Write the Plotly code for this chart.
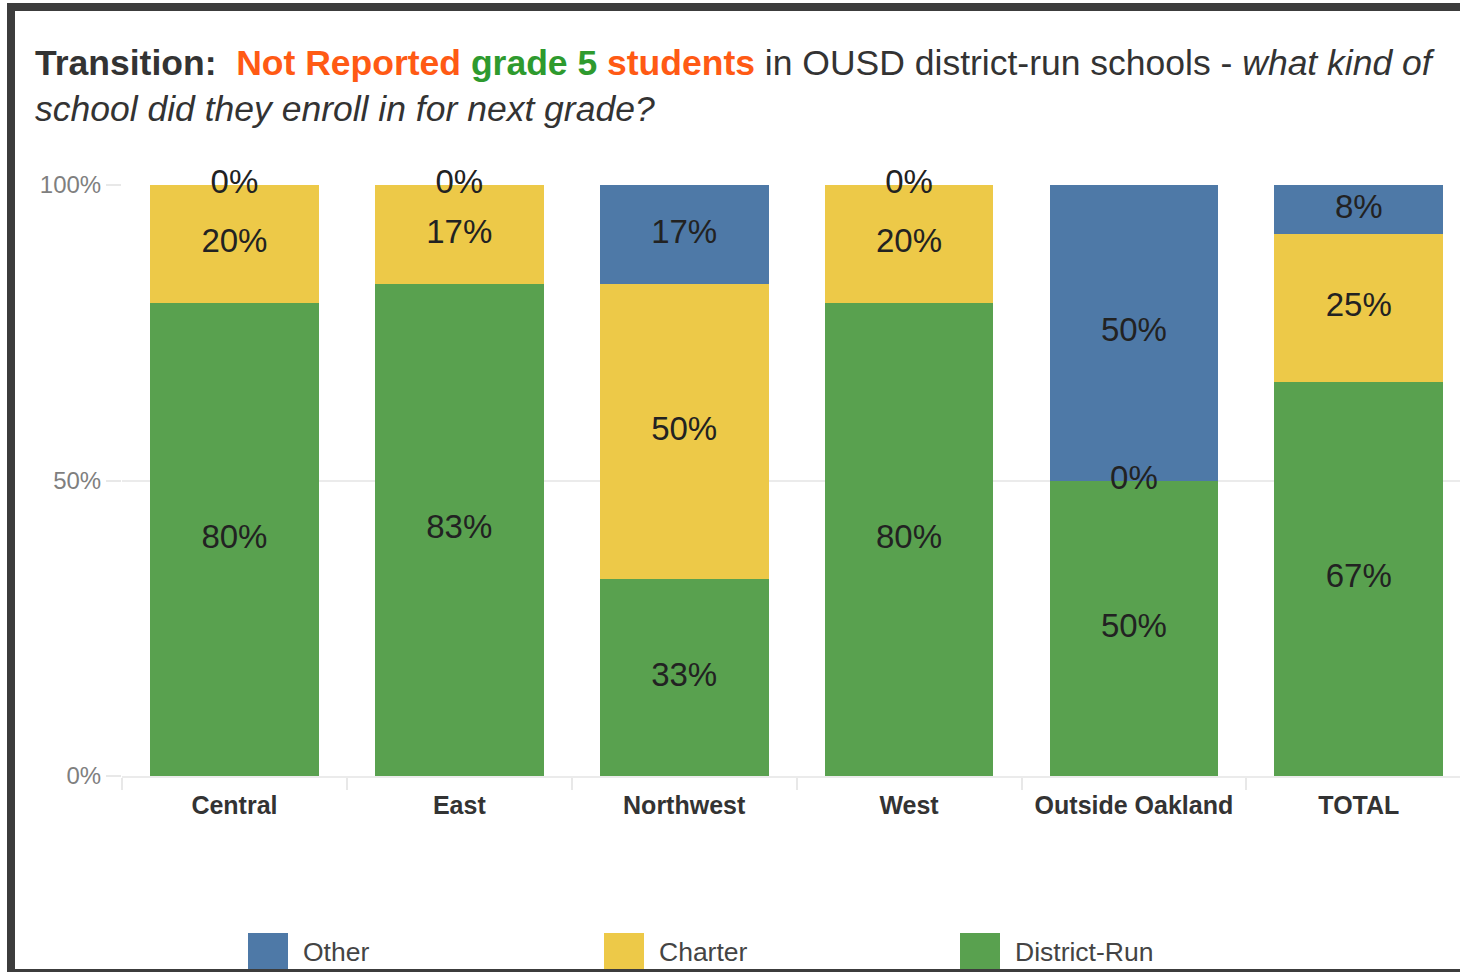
import plotly.graph_objects as go

categories = ["Central", "East", "Northwest", "West", "Outside Oakland", "TOTAL"]
district_run = [80.0, 83.3, 33.3, 80.0, 50.0, 66.7]
charter = [20.0, 16.7, 50.0, 20.0, 0.0, 25.0]
other = [0.0, 0.0, 16.7, 0.0, 50.0, 8.3]
series_names = ["District-Run", "Charter", "Other"]
colors = {"District-Run": "#59A14F", "Charter": "#EDC948", "Other": "#4E79A7"}
ytick_vals = [0, 50, 100]
ytick_text = ["0%", "50%", "100%"]

W, H = 1460, 972
PL, PR, PT, PB = 122, 1460, 185, 776  # plot area pixels


def px_x(p):
    return (p - PL) / (PR - PL)


def px_y(p):
    return (PB - p) / (PB - PT)


FONT = "Liberation Sans, Arial, sans-serif"
fig = go.Figure()

series = {"District-Run": district_run, "Charter": charter, "Other": other}
for name in series_names:
    fig.add_trace(go.Bar(
        x=categories, y=series[name], name=name,
        marker=dict(color=colors[name], line=dict(width=0)),
        width=0.75, showlegend=False, hoverinfo="skip",
    ))

# centered value labels
lab_x, lab_y, lab_t = [], [], []
base = [0.0] * len(categories)
for name in series_names:
    vals = series[name]
    for i, v in enumerate(vals):
        lab_x.append(categories[i])
        lab_y.append(base[i] + v / 2)
        lab_t.append(f"{round(v)}%")
        base[i] += v
fig.add_trace(go.Scatter(
    x=lab_x, y=lab_y, text=lab_t, mode="text", showlegend=False,
    textfont=dict(family=FONT, size=33, color="#222222"), hoverinfo="skip",
    cliponaxis=False,
))

title = ("<b>Transition:</b>  "
         "<b><span style='color:#FF5A14'>Not Reported</span> "
         "<span style='color:#2E9A2E'>grade 5</span> "
         "<span style='color:#FF5A14'>students</span></b>"
         " in OUSD district-run schools - <i>what kind of"
         "<br>school did they enroll in for next grade?</i>")

shapes = []
annotations = []
# manual legend (Other, Charter, District-Run)
legend_items = [("Other", 248), ("Charter", 604), ("District-Run", 960)]
for name, lx in legend_items:
    shapes.append(dict(type="rect", xref="paper", yref="paper",
                       x0=px_x(lx), x1=px_x(lx + 40), y0=px_y(970), y1=px_y(933),
                       fillcolor=colors[name], line=dict(width=0), layer="above"))
    annotations.append(dict(xref="paper", yref="paper", x=px_x(lx + 53), y=px_y(952),
                            xanchor="left", yanchor="middle", text=name, showarrow=False,
                            font=dict(family=FONT, size=26.5, color="#444444")))

# frame border
border = "#3C3C3C"
shapes += [
    dict(type="rect", xref="paper", yref="paper", x0=px_x(7), x1=px_x(1461),
         y0=px_y(11), y1=px_y(3), fillcolor=border, line=dict(width=0), layer="above"),
    dict(type="rect", xref="paper", yref="paper", x0=px_x(7), x1=px_x(15),
         y0=px_y(973), y1=px_y(3), fillcolor=border, line=dict(width=0), layer="above"),
    dict(type="rect", xref="paper", yref="paper", x0=px_x(7), x1=px_x(1461),
         y0=px_y(973), y1=px_y(969), fillcolor=border, line=dict(width=0), layer="above"),
]

fig.update_layout(
    width=W, height=H,
    barmode="stack", bargap=0.25,
    paper_bgcolor="white", plot_bgcolor="white",
    margin=dict(l=PL, r=W - PR, t=PT, b=H - PB, pad=0),
    title=dict(text=title, x=35 / W, xanchor="left", xref="container",
               y=1 - 75 / H, yanchor="top", yref="container",
               font=dict(family=FONT, size=35.5, color="#333333")),
    font=dict(family=FONT),
    shapes=shapes, annotations=annotations,
    showlegend=False,
)
fig.update_xaxes(
    range=[-0.5, 5.45], tickson="boundaries", ticks="outside", ticklen=12,
    tickcolor="#E8E8E8", tickwidth=2, showline=True, linecolor="#EBEBEB", linewidth=2,
    showgrid=False, tickfont=dict(family=FONT, size=25, color="#333333"),
    ticklabelstandoff=6,
)
fig.update_xaxes(tickprefix="<b>", ticksuffix="</b>")
fig.update_yaxes(
    range=[0, 100], tickvals=ytick_vals, ticktext=ytick_text,
    ticks="outside", ticklen=15, tickcolor="#E8E8E8", tickwidth=2,
    showgrid=True, gridcolor="#EBEBEB", gridwidth=2, zeroline=False,
    tickfont=dict(family=FONT, size=24, color="#7F7F7F"),
)

fig.write_html("out.html", config={"displayModeBar": False},
               post_script="document.body.style.margin='0';document.body.style.overflow='hidden';")
